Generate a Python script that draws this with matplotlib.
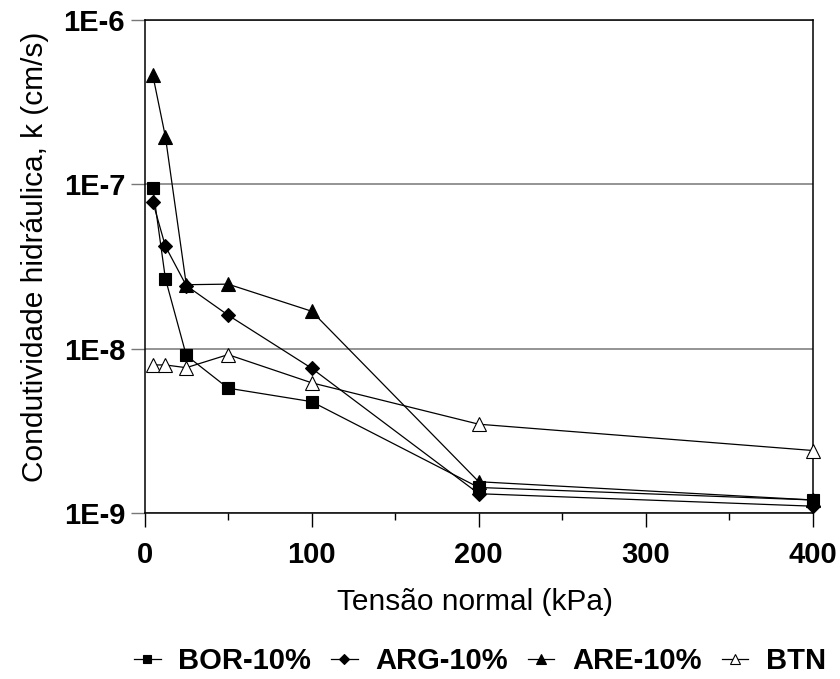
import matplotlib
matplotlib.use("Agg")
import matplotlib.pyplot as plt
from matplotlib.ticker import FixedLocator, FuncFormatter, MultipleLocator

plt.rcParams['font.family'] = ['Liberation Sans', 'DejaVu Sans']

# Tensão normal (kPa)
tensao = [5, 12.5, 25, 50, 100, 200, 400]

# condutividade hidráulica k (cm/s)
k_bor = [9.5e-8, 2.67e-8, 9.1e-9, 5.75e-9, 4.76e-9, 1.43e-9, 1.2e-9]
k_arg = [7.8e-8, 4.2e-8, 2.42e-8, 1.6e-8, 7.6e-9, 1.31e-9, 1.1e-9]
k_are = [4.6e-7, 1.95e-7, 2.45e-8, 2.47e-8, 1.69e-8, 1.55e-9, 1.2e-9]
k_btn = [7.96e-9, 7.96e-9, 7.66e-9, 9.2e-9, 6.2e-9, 3.47e-9, 2.4e-9]

series_names = ['BOR-10%', 'ARG-10%', 'ARE-10%', 'BTN']
x_ticks = [0, 100, 200, 300, 400]
y_ticks = [1e-9, 1e-8, 1e-7, 1e-6]
y_tick_labels = ['1E-9', '1E-8', '1E-7', '1E-6']

fig = plt.figure(figsize=(8.4, 6.79), dpi=100)
ax = fig.add_axes([144.5 / 840, 1 - 513 / 679, (813 - 144.5) / 840, (513 - 20) / 679])

styles = [
    dict(marker='s', markersize=8.5, markerfacecolor='black'),
    dict(marker='D', markersize=7, markerfacecolor='black'),
    dict(marker='^', markersize=9.5, markerfacecolor='black'),
    dict(marker='^', markersize=9.5, markerfacecolor='white'),
]
for vals, name, st in zip([k_bor, k_arg, k_are, k_btn], series_names, styles):
    ax.plot(tensao, vals, color='black', linewidth=0.9, markeredgecolor='black',
            markeredgewidth=0.8, label=name, clip_on=False, zorder=3, **st)

ax.set_yscale('log')
ax.set_ylim(1e-9, 1e-6)
ax.set_xlim(0, 400)

ax.yaxis.set_major_locator(FixedLocator(y_ticks))
ax.yaxis.set_minor_locator(FixedLocator([]))
ax.yaxis.set_major_formatter(FuncFormatter(lambda v, p: y_tick_labels[y_ticks.index(min(y_ticks, key=lambda t: abs(t - v)))]))
ax.xaxis.set_major_locator(FixedLocator(x_ticks))
ax.xaxis.set_minor_locator(MultipleLocator(50))

ax.grid(axis='y', which='major', color='#777777', linewidth=1.1)
ax.set_axisbelow(True)
for s in ax.spines.values():
    s.set_linewidth(1.1)

ax.tick_params(axis='both', which='major', direction='out', length=10, width=1.0,
               labelsize=21)
ax.tick_params(axis='x', which='major', pad=10)
ax.tick_params(axis='y', which='major', pad=4, color='#777777')
ax.tick_params(axis='x', which='minor', direction='out', length=5, width=1.0)
for lbl in ax.get_xticklabels() + ax.get_yticklabels():
    lbl.set_fontweight('bold')

ax.set_xlabel('Tensão normal (kPa)', fontsize=21.5)
ax.xaxis.set_label_coords(0.494, -0.153)
ax.set_ylabel('Condutividade hidráulica, k (cm/s)', fontsize=21.5)
ax.yaxis.set_label_coords(-0.143, 0.519)

leg = ax.legend(loc='center', bbox_to_anchor=(480 / 840, (679 - 661) / 679), bbox_transform=fig.transFigure,
                ncol=4, frameon=False, prop={'size': 21, 'weight': 'bold'},
                handlelength=0.9, handletextpad=0.6, columnspacing=0.7, markerscale=0.75,
                borderaxespad=0, borderpad=0)

fig.savefig('out.png', dpi=100)
